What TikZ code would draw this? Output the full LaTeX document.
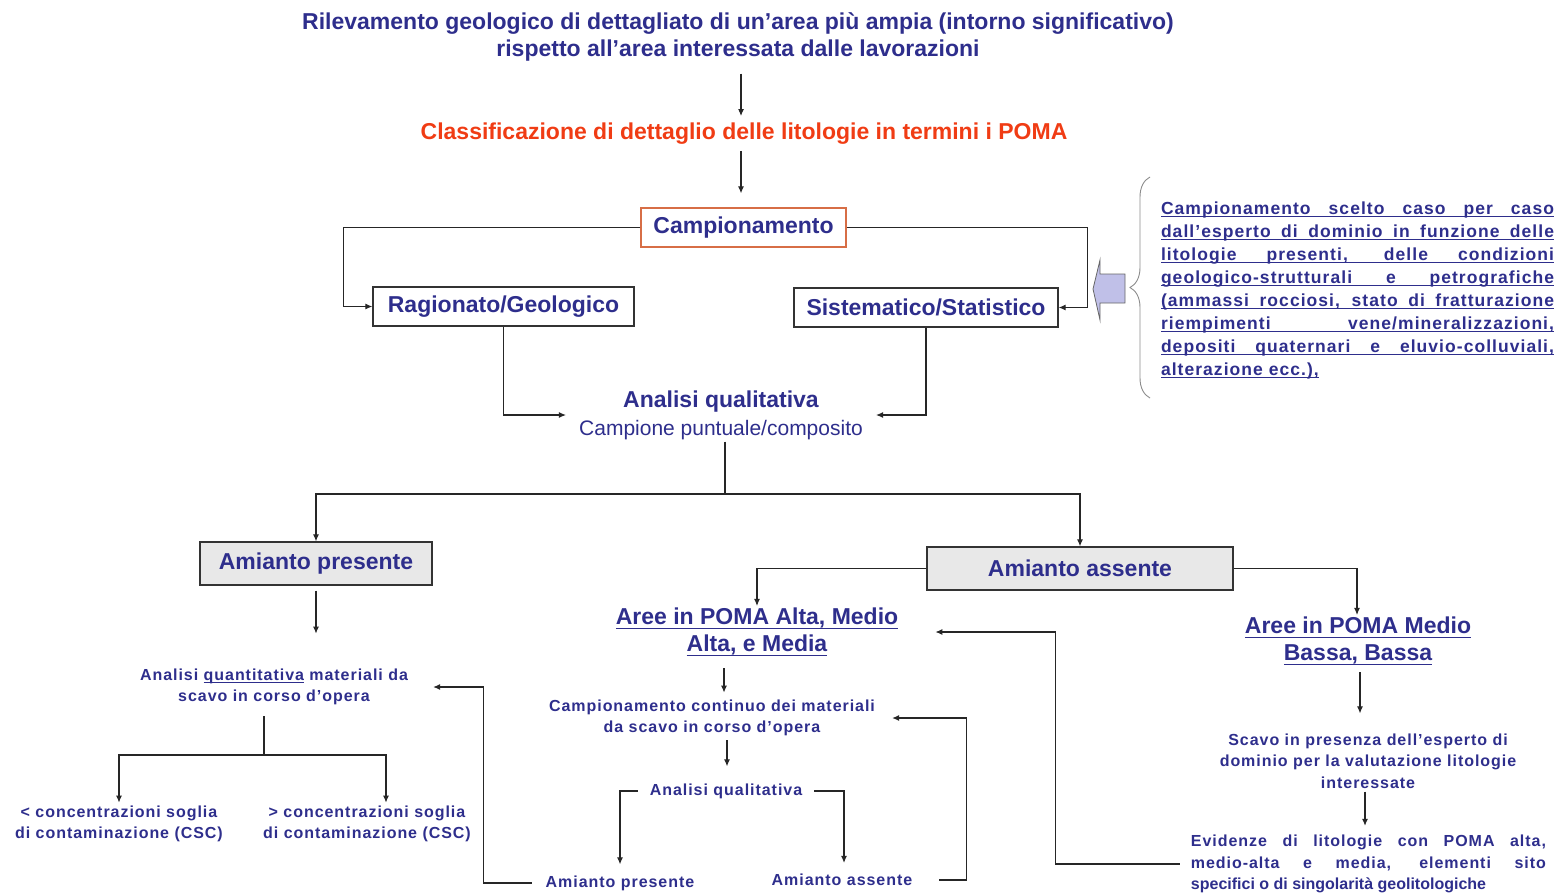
\documentclass[tikz,border=0pt]{standalone}
\usepackage{fontspec}
\setmainfont{Liberation Sans}
\newfontfamily\spacedfont[LetterSpace=6]{Liberation Sans}
\usetikzlibrary{arrows.meta}
\usetikzlibrary{positioning}
\usetikzlibrary{decorations.pathreplacing}

\definecolor{navy}{RGB}{46,46,140}
\definecolor{pomared}{RGB}{240,60,20}
\definecolor{campborder}{RGB}{215,110,70}
\definecolor{boxgray}{RGB}{232,232,232}
\definecolor{lavender}{RGB}{192,192,232}

% underline drawn as a rule under a box
\newcommand{\ulined}[2][3.5pt]{\setbox0\hbox{#2}\rlap{\rule[-#1]{\wd0}{1.2pt}}\box0\relax}
% one justified line of given width
\newcommand{\fullline}[2]{\makebox[#1][s]{#2}}

\begin{document}
\begin{tikzpicture}[
          x=1pt, y=-1pt,
          heading/.style={
            font=\fontsize{23}{27}\selectfont\bfseries,
            text=navy,
            align=center,
            inner sep=2pt},
          stagebox/.style={
            draw=black!80,
            line width=1.3pt,
            font=\fontsize{23}{27}\selectfont\bfseries,
            text=navy,
            minimum height=39pt,
            inner sep=0pt},
          greybox/.style={
            stagebox,
            fill=boxgray,
            minimum height=43pt},
          note/.style={
            font=\spacedfont\fontsize{16}{21.5}\selectfont\bfseries,
            text=navy,
            align=center,
            inner sep=3pt},
          link/.style={
            line width=1.1pt,
            draw=black!85,
            -{Latex[length=7pt,width=6pt]}},
          wire/.style={
            line width=1.1pt,
            draw=black!85},
        ]
          \useasboundingbox (0,0) rectangle (1561,895);

          % top of the chart
          \node[heading] (survey) at (738,37)
            {Rilevamento geologico di dettagliato di un’area più ampia (intorno significativo)\\rispetto all’area interessata dalle lavorazioni};
          \node[heading, text=pomared] (classes) at (744,134)
            {Classificazione di dettaglio delle litologie in termini i POMA};
          \draw[link, shorten <=10pt, shorten >=5pt] ([xshift=3pt]survey.south) -- ([xshift=-3pt]classes.north);

          \node[stagebox, draw=campborder, minimum width=205pt] (sampling) at (743.5,227.5) {Campionamento};
          \draw[link, shorten <=4pt, shorten >=14pt] ([xshift=-3pt]classes.south) -- ([xshift=-2.5pt]sampling.north);

          \node[stagebox, minimum width=261pt] (reasoned) at (503.5,306.5) {Ragionato/Geologico};
          \node[stagebox, minimum width=264pt] (systematic) at (926,307.5) {Sistematico/Statistico};
          \draw[link] (sampling.west) -| ([xshift=-29pt]reasoned.west) -- (reasoned.west);
          \draw[link] (sampling.east) -| ([xshift=29pt]systematic.east) -- (systematic.east);

          % note on the right
          \draw[fill=lavender, draw=black!60, line width=0.8pt]
            (1125,274) -- (1100,274) -- (1100,260) -- (1093,289) -- (1100,320) -- (1100,303) -- (1125,303) -- cycle;
          \draw[decorate, decoration={brace, amplitude=20pt}, draw=black!45, line width=0.9pt]
            (1150,398) -- (1150,177);
          \node[font=\spacedfont\fontsize{17.5}{23}\selectfont\bfseries, text=navy, align=left, inner sep=0pt] (criteria) at (1357.5,290)
            {\ulined[3pt]{\fullline{393pt}{Campionamento scelto caso per caso}}\\
             \ulined[3pt]{\fullline{393pt}{dall’esperto di dominio in funzione delle}}\\
             \ulined[3pt]{\fullline{393pt}{litologie presenti, delle condizioni}}\\
             \ulined[3pt]{\fullline{393pt}{geologico-strutturali e petrografiche}}\\
             \ulined[3pt]{\fullline{393pt}{(ammassi rocciosi, stato di fratturazione}}\\
             \ulined[3pt]{\fullline{393pt}{riempimenti vene/mineralizzazioni,}}\\
             \ulined[3pt]{\fullline{393pt}{depositi quaternari e eluvio-colluviali,}}\\
             \ulined[3pt]{alterazione ecc.),}};

          % qualitative analysis
          \node[heading, inner xsep=13pt] (quality) at (721,415)
            {Analisi qualitativa\\[1pt]{\fontsize{21}{27}\selectfont\mdseries Campione puntuale/composito}};
          \draw[link] (reasoned.south) |- (quality.west);
          \draw[link] (systematic.south) |- (quality.east);

          \coordinate (fork1) at (725,494);
          \node[greybox, minimum width=232pt] (present) at (316,563.5) {Amianto presente};
          \node[greybox, minimum width=306pt] (absent) at (1080,568.5) {Amianto assente};
          \draw[wire] (quality.south -| fork1) -- (fork1);
          \draw[link] (fork1) -| (present.north);
          \draw[link] (fork1) -| (absent.north);

          % asbestos found
          \node[note] (quantity) at (274,687)
            {Analisi \ulined[3pt]{quantitativa} materiali da\\scavo in corso d’opera};
          \draw[link, shorten <=5pt, shorten >=32pt] (present.south) -- (present.south |- quantity.north);

          \coordinate (fork2) at (264,755);
          \node[note] (below) at (119,824) {< concentrazioni soglia\\di contaminazione (CSC)};
          \node[note] (above) at (367,824) {> concentrazioni soglia\\di contaminazione (CSC)};
          \draw[wire, shorten <=8pt] (quantity.south -| fork2) -- (fork2);
          \draw[link] (fork2) -| (below.north);
          \draw[link] (fork2) -| ([xshift=19pt]above.north);

          % asbestos absent, high classes
          \node[heading] (highpoma) at (757,632) {\ulined[4pt]{Aree in POMA Alta, Medio}\\\ulined[4pt]{Alta, e Media}};
          \draw[link] (absent.west) -| (highpoma.north);

          \node[note] (continuous) at (712,718)
            {Campionamento continuo dei materiali\\da scavo in corso d’opera};
          \draw[link, shorten <=10pt, shorten >=4pt] ([xshift=-33pt]highpoma.south) -- ([xshift=12pt]continuous.north);

          \node[note, inner xsep=12pt] (quality2) at (726,791) {Analisi qualitativa};
          \draw[link, shorten <=1pt, shorten >=14pt] ([xshift=15pt]continuous.south) -- ([xshift=1pt]quality2.north);

          \node[note] (present2) at (620,883) {Amianto presente};
          \node[note] (absent2) at (842,880) {Amianto assente};
          \draw[link, shorten >=8pt] (quality2.west) -| (present2.north);
          \draw[link, shorten >=8pt] (quality2.east) -| ([xshift=2pt]absent2.north);

          \draw[link, shorten <=11pt] (present2.west) -- ++(-59,0) |- ([xshift=22pt]quantity.east);
          \draw[link, shorten <=24pt] (absent2.east) -- ++(51,0) |- ([xshift=14pt]continuous.east);

          % asbestos absent, low classes
          \node[heading] (lowpoma) at (1358,641) {\ulined[4pt]{Aree in POMA Medio}\\\ulined[4pt]{Bassa, Bassa}};
          \draw[link] (absent.east) -| ([xshift=-1pt]lowpoma.north);

          \node[note] (digging) at (1368,761)
            {Scavo in presenza dell’esperto di\\dominio per la valutazione litologie\\interessate};
          \draw[link, shorten <=5pt, shorten >=17pt] ([xshift=2pt]lowpoma.south) -- ([xshift=-8pt]digging.north);

          \node[note, align=left] (evidence) at (1368.5,864)
            {\fullline{355pt}{Evidenze di litologie con POMA alta,}\\
             \fullline{355pt}{medio-alta e media, elementi sito}\\
             {\fontspec{Liberation Sans}\bfseries specifici o di singolarità geolitologiche}\hspace*{60pt}};
          \draw[link, shorten >=6pt] ([xshift=-3pt]digging.south) -- ([xshift=-3.5pt]evidence.north);
          \draw[link, shorten <=8pt] (evidence.west) -- ++(-132,0) |- ([xshift=35pt]highpoma.east);
        \end{tikzpicture}
\end{document}
